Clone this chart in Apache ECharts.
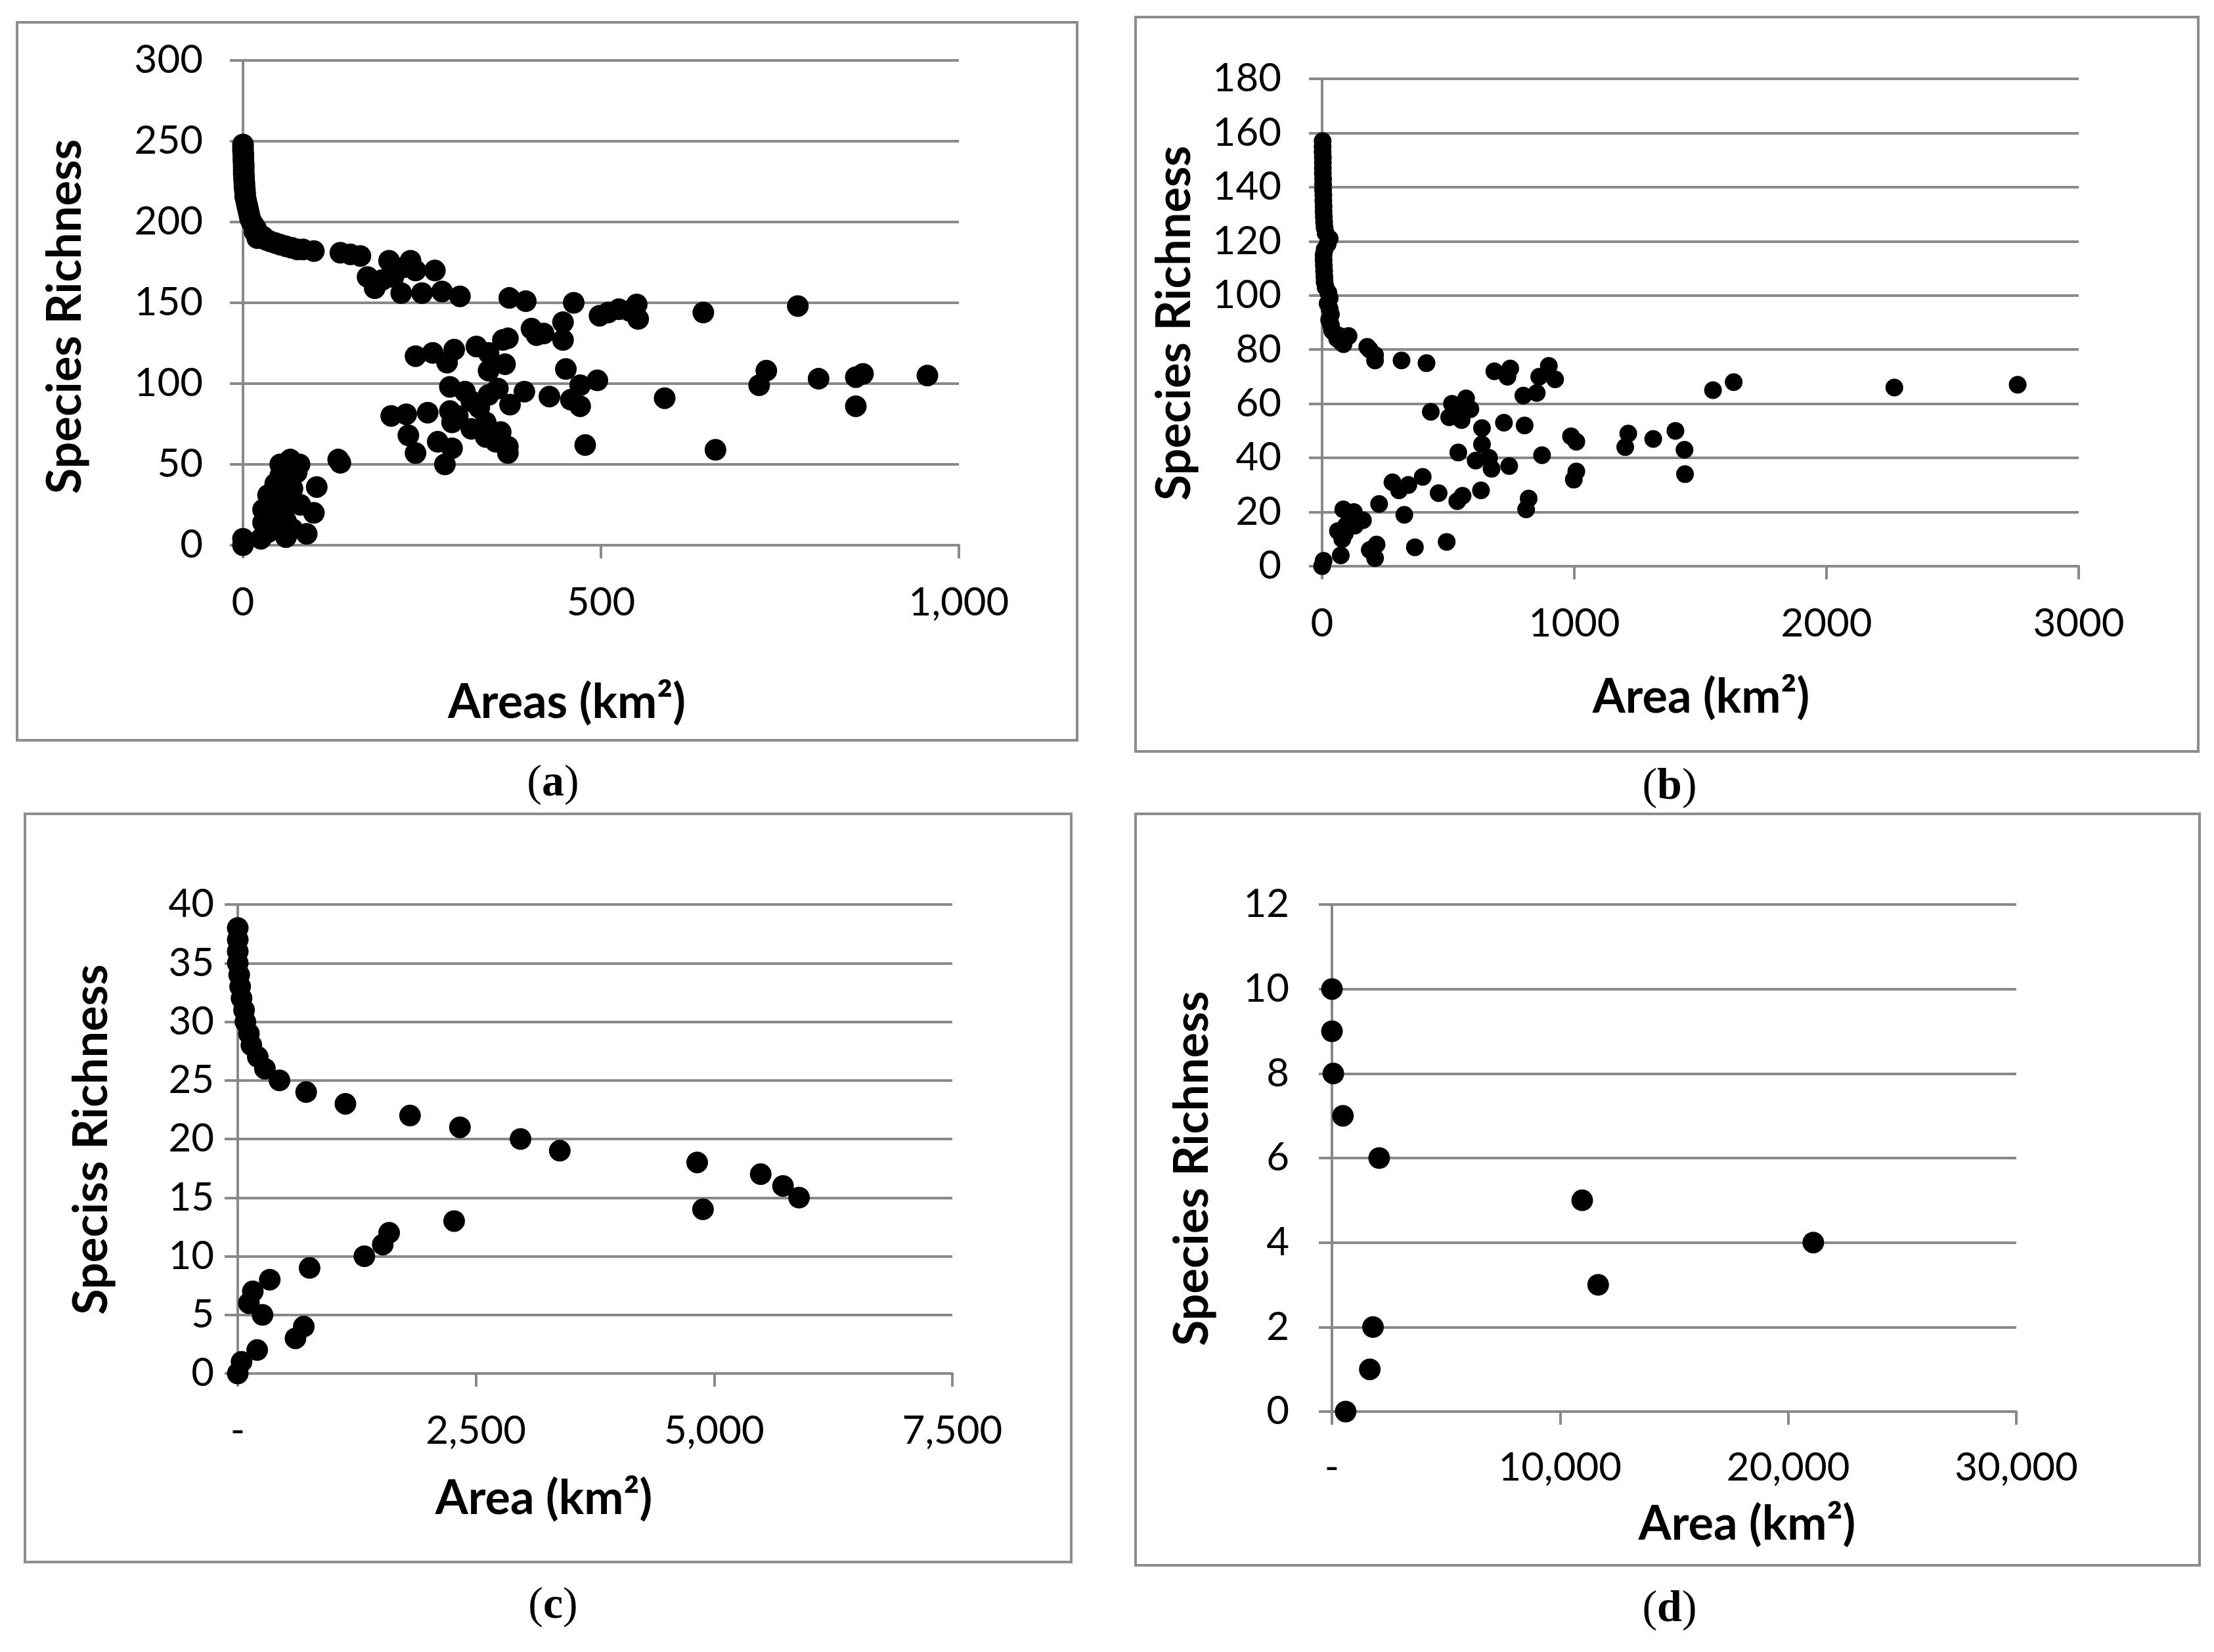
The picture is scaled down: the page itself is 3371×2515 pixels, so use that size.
<!DOCTYPE html>
<html>
<head>
<meta charset="utf-8">
<script src="https://cdn.jsdelivr.net/npm/echarts@6/dist/echarts.min.js"></script>
<style>
html,body{margin:0;padding:0;background:#fff;}
#chart{width:3371px;height:2515px;}
</style>
</head>
<body>
<div id="chart"></div>
<script>
// ---------------- DATA ----------------
// Panel (a): Areas (km2) vs Species Richness
var aArea = [0,0,0,0.5,0.5,0.5,1,1,1,1,1.5,1.5,2,2,2.5,3,3,4,5,6,7,8,9,10,12,15,18,16,20,24,28,20,32,38,45,52,60,68,76,84,99,
  136,150,164,174,184,194,204,210,221,225,234,241,250,268,278,303,372,395,462,498,510,525,540,550,552,643,775,
  241,265,285,295,326,343,363,366,343,403,420,447,447,410,370,451,471,495,721,731,804,856,866,856,956,589,478,660,
  428,393,373,356,343,289,319,458,471,289,207,228,258,339,319,292,231,272,241,282,292,370,370,353,339,300,330,360,310,
  52,66,79,133,136,103,52,35,28,28,55,99,69,89,0,0,25,45,62,42,69,40,60,45,75,60,80,35];
var aRich = [248,246,244,242,240,238,236,234,232,230,228,226,224,222,220,218,216,214,212,210,208,206,204,202,200,198,196,194,193,192,191,190,189,188,187,186,185,184,183,183,182,
  181,180,179,166,159,164,176,166,156,172,176,170,156,170,157,154,153,151,150,142,144,146,145,149,140,144,148,
  117,119,113,121,123,119,127,112,108,134,131,138,127,130,128,109,99,102,99,108,103,104,106,86,105,91,62,59,
  92,95,87,97,93,98,89,90,86,83,80,81,82,76,72,76,68,64,57,50,60,61,57,64,67,80,85,70,95,
  50,53,50,53,51,36,43,31,22,14,20,20,10,7,4,0,4,10,29,27,35,18,15,38,45,5,25,8];

// Panel (b): Area (km2) vs Species Richness
var bArea = [2,2,2,3,3,3,3,4,4,4,5,5,6,6,7,8,10,14,30,22,10,6,6,7,8,9,10,14,25,30,22,30,35,28,35,40,50,70,105,74,60,85,
  179,189,210,210,315,414,
  683,746,735,899,861,924,798,851,1550,1632,2269,2758,
  431,515,571,536,588,504,553,634,721,803,987,1008,1214,1313,1401,1202,1437,634,540,609,662,672,742,872,1008,998,1439,
  279,305,342,399,462,557,536,630,819,809,226,326,84,126,162,63,95,80,216,189,210,368,494,74,6,0,110,90,130];
var bRich = [157,155,153,151,149,147,145,143,141,139,137,135,133,131,129,127,125,123,121,119,117,115,113,111,109,107,105,103,101,99,97,95,93,91,89,87,86,85,85,83,84,82,
  81,80,78,76,76,75,
  72,73,70,74,70,69,63,64,65,68,66,67,
  57,60,62,58,58,55,54,51,53,52,48,46,49,47,50,44,43,45,42,39,40,36,37,41,35,32,34,
  31,28,30,33,27,26,24,28,25,21,23,19,21,20,17,13,15,10,8,6,3,7,9,4,2,0,18,12,15];

// Panel (c): Area (km2) vs Speciss Richness
var cArea = [0,0,0,0,15,25,40,66,80,117,143,210,285,438,718,1130,1808,2332,2968,3380,4822,5489,5723,5891,4883,2271,1589,1522,1329,754,336,158,117,260,693,606,204,40,0];
var cRich = [38,37,36,35,34,33,32,31,30,29,28,27,26,25,24,23,22,21,20,19,18,17,16,15,14,13,12,11,10,9,8,7,6,5,4,3,2,1,0];

// Panel (d): Area (km2) vs Species Richness
var dArea = [0,0,60,480,2070,10970,21100,11670,1800,1660,600];
var dRich = [10,9,8,7,6,5,4,3,2,1,0];

// Tick labels
var aXLabels = ['0','500','1,000'];
var bXLabels = ['0','1000','2000','3000'];
var cXLabels = ['-','2,500','5,000','7,500'];
var dXLabels = ['-','10,000','20,000','30,000'];
var aYLabels = ['0','50','100','150','200','250','300'];
var bYLabels = ['0','20','40','60','80','100','120','140','160','180'];
var cYLabels = ['0','5','10','15','20','25','30','35','40'];
var dYLabels = ['0','2','4','6','8','10','12'];

// Titles
var panelLetters = ['a','b','c','d'];
var yTitles = ['Species Richness','Species Richness','Speciss Richness','Species Richness'];
var xTitles = ['Areas (km\u00B2)','Area (km\u00B2)','Area (km\u00B2)','Area (km\u00B2)'];

// ---------------- CHART ----------------
var GRAY = '#898989';
var FONT = 'Lato';
function zip(xs, ys){ var r=[]; for(var i=0;i<xs.length;i++) r.push([xs[i],ys[i]]); return r; }

var panels = [
  {grid:{left:370,top:92,width:1090,height:738}, xmax:1000, xint:500, xl:aXLabels, ymax:300, yint:50, yl:aYLabels, ymargin:61, xmargin:58, data:zip(aArea,aRich), size:33},
  {grid:{left:2013,top:120,width:1152,height:742}, xmax:3000, xint:1000, xl:bXLabels, ymax:180, yint:20, yl:bYLabels, ymargin:62, xmargin:58, data:zip(bArea,bRich), size:27},
  {grid:{left:362,top:1377,width:1088,height:714}, xmax:7500, xint:2500, xl:cXLabels, ymax:40, yint:5, yl:cYLabels, ymargin:36, xmargin:58, data:zip(cArea,cRich), size:33},
  {grid:{left:2028,top:1377,width:1042,height:772}, xmax:30000, xint:10000, xl:dXLabels, ymax:12, yint:2, yl:dYLabels, ymargin:65, xmargin:56, data:zip(dArea,dRich), size:33}
];

var grids=[], xAxes=[], yAxes=[], series=[];
panels.forEach(function(p, i){
  grids.push(p.grid);
  xAxes.push({
    type:'value', gridIndex:i, min:0, max:p.xmax, interval:p.xint,
    axisLine:{show:true, onZero:false, lineStyle:{color:GRAY, width:4}},
    axisTick:{show:true, length:20, lineStyle:{color:GRAY, width:4}},
    splitLine:{show:false},
    axisLabel:{show:true, margin:p.xmargin, color:'#000', fontFamily:FONT, fontSize:60,
      formatter:(function(labels, step){ return function(v){ return labels[Math.round(v/step)]; }; })(p.xl, p.xint)}
  });
  yAxes.push({
    type:'value', gridIndex:i, min:0, max:p.ymax, interval:p.yint,
    axisLine:{show:true, lineStyle:{color:GRAY, width:4}},
    axisTick:{show:true, length:20, lineStyle:{color:GRAY, width:4}},
    splitLine:{show:true, lineStyle:{color:GRAY, width:4}},
    axisLabel:{show:true, margin:p.ymargin, color:'#000', fontFamily:FONT, fontSize:60,
      formatter:(function(labels, step){ return function(v){ return labels[Math.round(v/step)]; }; })(p.yl, p.yint)}
  });
  series.push({
    type:'scatter', xAxisIndex:i, yAxisIndex:i, data:p.data, symbol:'circle', symbolSize:p.size,
    itemStyle:{color:'#000', opacity:1}, clip:false, silent:true, animation:false
  });
});

// boxes, titles, panel letters
var boxes = [[26,34,1640,1127],[1729,26,3347,1144],[38,1239,1631,2378],[1729,1239,3349,2383]];
var yTitlePos = [[100,482],[1789,492],[140,1735],[1816,1779]];
var xTitlePos = [[863,1070],[2590,1062],[828,2282],[2660,2321]];
var letterPos = [[842,1193],[2542,1198],[842,2445],[2542,2450]];
var graphics = [];
boxes.forEach(function(b){
  graphics.push({type:'rect', shape:{x:b[0], y:b[1], width:b[2]-b[0], height:b[3]-b[1]},
    style:{fill:'none', stroke:'#8c8c8c', lineWidth:4}, z:-1, silent:true});
});
for (var k=0;k<4;k++){
  graphics.push({type:'text', x:yTitlePos[k][0], y:yTitlePos[k][1], rotation:Math.PI/2,
    style:{text:yTitles[k], font:'bold 72px '+FONT, fill:'#000', textAlign:'center', textVerticalAlign:'middle'}, silent:true});
  graphics.push({type:'text', x:xTitlePos[k][0], y:xTitlePos[k][1],
    style:{text:xTitles[k], font:'bold 72px '+FONT, fill:'#000', textAlign:'center', textVerticalAlign:'middle'}, silent:true});
  graphics.push({type:'text', x:letterPos[k][0], y:letterPos[k][1],
    style:{text:'{p|(}{l|'+panelLetters[k]+'}{p|)}', textAlign:'center', textVerticalAlign:'middle',
      rich:{p:{fontFamily:'Liberation Serif', fontSize:68, fill:'#000'}, l:{fontFamily:'Liberation Serif', fontWeight:'bold', fontSize:68, fill:'#000'}}}, silent:true});
}

var chart = echarts.init(document.getElementById('chart'), null, {renderer:'canvas', width:3371, height:2515});
chart.setOption({
  animation:false,
  backgroundColor:'#fff',
  grid:grids, xAxis:xAxes, yAxis:yAxes, series:series,
  graphic:graphics
});
</script>
</body>
</html>
